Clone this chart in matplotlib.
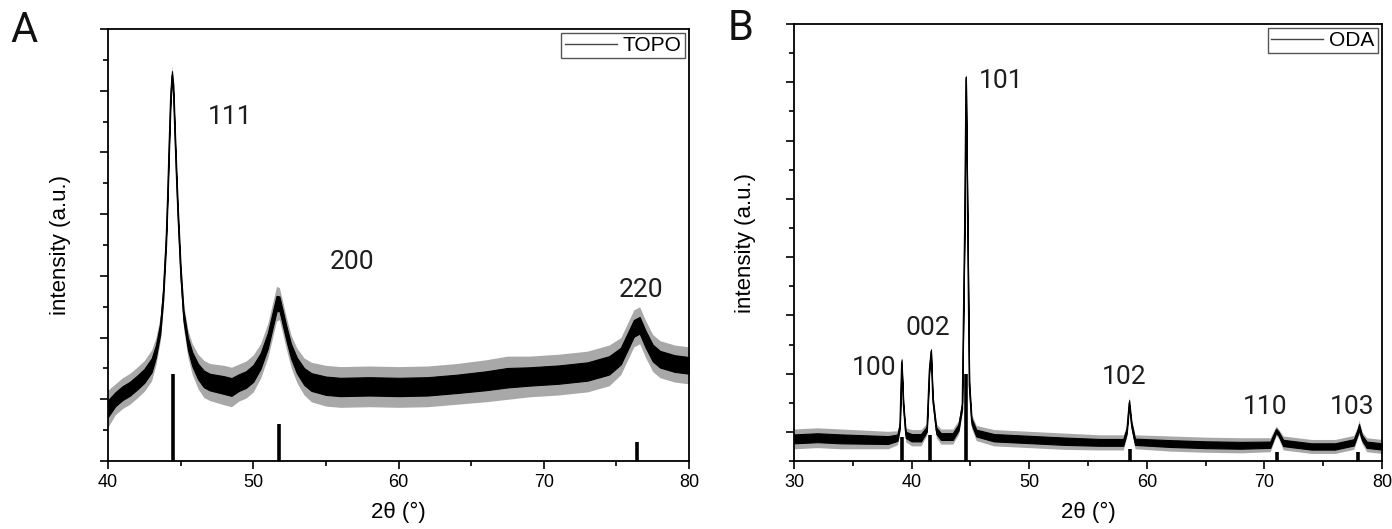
import matplotlib
matplotlib.use('agg')
import matplotlib.pyplot as plt
from matplotlib.lines import Line2D
from matplotlib.ticker import MultipleLocator
import numpy as np

plt.rcParams['font.family'] = ['Liberation Sans', 'DejaVu Sans']

# ---- panel A (TOPO): 2theta, centre of the noisy trace, half-width of the noise ----
topo_x = [40.0, 40.5, 41.0, 41.5, 42.0, 42.5, 43.0, 43.3, 43.6, 43.8, 44.0, 44.1,
          44.2, 44.3, 44.4, 44.5, 44.6, 44.7, 44.8, 45.0, 45.2, 45.5, 45.8, 46.2,
          46.6, 47.0, 48.0, 48.5, 49.0, 49.5, 50.0, 50.5, 51.0, 51.3, 51.6, 51.8,
          52.0, 52.3, 52.6, 53.0, 53.5, 54.0, 55.0, 56.0, 58.0, 60.0, 62.0, 64.0,
          66.0, 67.5, 69.0, 71.0, 73.0, 74.5, 75.3, 75.8, 76.2, 76.6, 77.0, 77.5,
          78.0, 79.0, 80.0]
topo_mid = [0.85, 1.0, 1.1, 1.17, 1.27, 1.38, 1.55, 1.78, 2.15, 2.7, 3.6, 4.3,
            5.1, 5.85, 6.25, 6.0, 5.3, 4.65, 4.05, 3.05, 2.35, 1.9, 1.65, 1.45,
            1.33, 1.28, 1.23, 1.2, 1.27, 1.32, 1.42, 1.62, 1.95, 2.25, 2.55, 2.55,
            2.35, 2.05, 1.78, 1.55, 1.37, 1.28, 1.22, 1.2, 1.21, 1.2, 1.21, 1.25,
            1.3, 1.35, 1.37, 1.4, 1.45, 1.55, 1.7, 1.95, 2.15, 2.2, 1.98, 1.75,
            1.65, 1.58, 1.55]
topo_noise = [0.3, 0.25, 0.25, 0.25, 0.25, 0.25, 0.25, 0.22, 0.2, 0.2, 0.2, 0.2,
              0.2, 0.2, 0.15, 0.2, 0.2, 0.2, 0.2, 0.2, 0.2, 0.22, 0.25, 0.28,
              0.3, 0.3, 0.32, 0.32, 0.3, 0.3, 0.3, 0.28, 0.28, 0.28, 0.28, 0.26,
              0.26, 0.26, 0.26, 0.28, 0.3, 0.32, 0.33, 0.33, 0.33, 0.33, 0.33, 0.33,
              0.34, 0.35, 0.33, 0.33, 0.33, 0.33, 0.3, 0.3, 0.3, 0.3, 0.3, 0.3,
              0.3, 0.3, 0.3]
topo_ref_pos = [44.5, 51.8, 76.4]
topo_ref_h = [1.41, 0.60, 0.31]
topo_hkl = ['111', '200', '220']
topo_hkl_xy = [(48.4, 5.58), (56.8, 3.22), (76.7, 2.77)]

# ---- panel B (ODA) ----
oda_x = [30.0, 32.0, 34.0, 36.0, 38.0, 38.8, 39.0, 39.15, 39.3, 39.5, 40.0, 40.8,
         41.3, 41.5, 41.65, 41.8, 42.1, 42.5, 43.5, 44.0, 44.3, 44.5, 44.62, 44.75,
         44.9, 45.1, 45.5, 47.0, 50.0, 53.0, 56.0, 58.0, 58.3, 58.5, 58.7, 59.0,
         62.0, 65.0, 68.0, 70.5, 71.0, 71.2, 71.6, 74.0, 76.0, 77.6, 77.9, 78.05,
         78.3, 78.7, 80.0]
oda_mid = [-0.12, -0.1, -0.12, -0.13, -0.14, -0.1, 0.1, 1.2, 0.45, -0.05, -0.1, -0.1,
           0.05, 1.05, 1.38, 0.55, 0.02, -0.08, -0.08, 0.08, 0.45, 3.45, 6.08, 3.7,
           0.8, 0.18, -0.02, -0.1, -0.13, -0.16, -0.18, -0.18, 0.02, 0.5, 0.12, -0.17,
           -0.2, -0.22, -0.23, -0.22, 0.02, -0.03, -0.19, -0.25, -0.25, -0.18, -0.02, 0.08,
           -0.1, -0.22, -0.25]
oda_noise = [0.17, 0.17, 0.17, 0.16, 0.15, 0.12, 0.1, 0.1, 0.1, 0.12, 0.14, 0.14,
             0.1, 0.1, 0.08, 0.1, 0.12, 0.13, 0.13, 0.12, 0.12, 0.12, 0.05, 0.15,
             0.15, 0.12, 0.13, 0.14, 0.14, 0.14, 0.13, 0.13, 0.1, 0.1, 0.1, 0.12,
             0.13, 0.13, 0.13, 0.12, 0.08, 0.08, 0.12, 0.12, 0.12, 0.12, 0.1, 0.12,
             0.1, 0.12, 0.12]
oda_ref_pos = [39.2, 41.6, 44.6, 58.6, 71.1, 78.0]
oda_ref_h = [-0.09, -0.06, 1.0, -0.30, -0.34, -0.34]
oda_hkl = ['100', '002', '101', '102', '110', '103']
oda_hkl_xy = [(36.8, 1.1), (41.4, 1.78), (47.6, 6.02), (58.1, 0.94), (70.05, 0.43), (77.45, 0.43)]

thin = ['Roboto', 'DejaVu Sans']

fig = plt.figure(figsize=(13.92, 5.29), dpi=100)
axA = fig.add_axes([0.0776, 0.1285, 0.4174, 0.8166])
axB = fig.add_axes([0.5704, 0.1285, 0.4224, 0.8260])


def draw_panel(ax, x, mid, noise, refpos, refh, ybase, hkl, hklxy, name, xlim, ylim):
    mid = np.asarray(mid)
    noise = np.asarray(noise)
    # sparse spikes (light grey fringe) and dense core of the noisy trace
    ax.fill_between(x, mid - noise, mid + noise, color='#a8a8a8', linewidth=0)
    ax.fill_between(x, mid - 0.45 * noise, mid + 0.45 * noise, color='k', linewidth=0.8)
    ax.plot(x, mid, color='k', linewidth=0.8)
    ax.vlines(refpos, ybase, refh, color='k', linewidth=2.6)
    for lab, (tx, ty) in zip(hkl, hklxy):
        ax.text(tx, ty, lab, family=thin, fontsize=19, color='#1e1e1e',
                fontweight=350, ha='center', va='center')
    ax.set_xlim(*xlim)
    ax.set_ylim(*ylim)
    ax.xaxis.set_major_locator(MultipleLocator(10))
    ax.xaxis.set_minor_locator(MultipleLocator(5))
    ax.yaxis.set_major_locator(MultipleLocator(1))
    ax.yaxis.set_minor_locator(MultipleLocator(0.5))
    ax.tick_params(axis='both', which='major', direction='out', length=6, width=1.2,
                   labelsize=13)
    ax.tick_params(axis='both', which='minor', direction='out', length=3.6, width=1.2)
    ax.tick_params(axis='y', labelleft=False)
    for s in ax.spines.values():
        s.set_linewidth(1.3)
    ax.set_xlabel('2θ (°)', fontsize=16, labelpad=8)
    ax.set_ylabel('intensity (a.u.)', fontsize=16, labelpad=20)
    h = [Line2D([], [], color='#444444', linewidth=1.0)]
    leg = ax.legend(h, [name], loc='upper right', fontsize=15, fancybox=False,
                    edgecolor='#555555', framealpha=1, borderaxespad=0.2,
                    handlelength=2.5, handletextpad=0.3, borderpad=0.15)
    leg.get_frame().set_linewidth(1.0)


draw_panel(axA, topo_x, topo_mid, topo_noise, topo_ref_pos, topo_ref_h, 0,
           topo_hkl, topo_hkl_xy, 'TOPO', (40, 80), (0, 7))
draw_panel(axB, oda_x, oda_mid, oda_noise, oda_ref_pos, oda_ref_h, -0.5,
           oda_hkl, oda_hkl_xy, 'ODA', (30, 80), (-0.5, 7))

fig.text(24 / 1392, 1 - 30 / 529, 'A', family=thin, fontweight=350, fontsize=30,
         color='#111111', ha='center', va='center')
fig.text(741 / 1392, 1 - 28 / 529, 'B', family=thin, fontweight=350, fontsize=30,
         color='#111111', ha='center', va='center')

fig.savefig('out.png', dpi=100)
